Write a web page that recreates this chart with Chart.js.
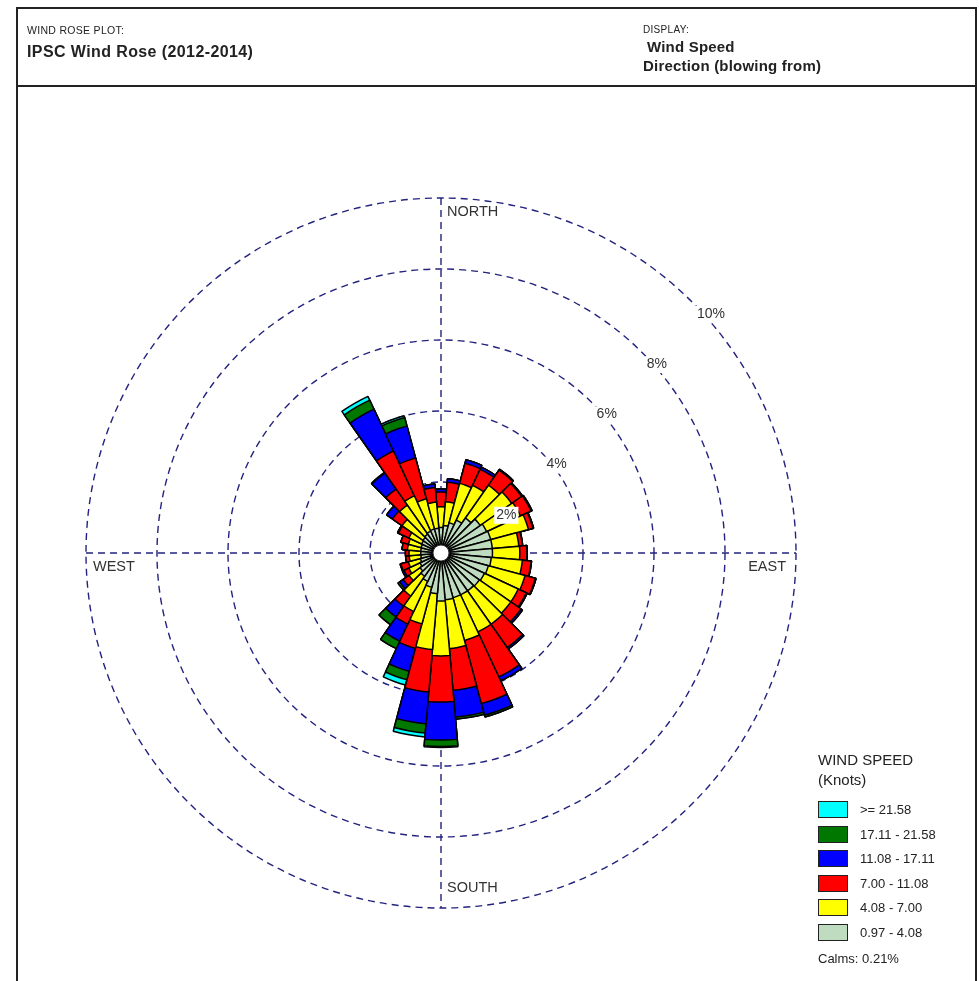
<!DOCTYPE html>
<html><head><meta charset="utf-8">
<script src="https://cdn.jsdelivr.net/npm/chart.js@4"></script>
<style>
html,body{margin:0;padding:0;background:#fff;}
body{width:979px;height:981px;position:relative;overflow:hidden;font-family:"Liberation Sans",Arial,sans-serif;color:#222;}
#frame{position:absolute;left:16px;top:7px;width:961px;height:1000px;border:2px solid #222;border-bottom:none;box-sizing:border-box;}
#hdrline{position:absolute;left:16px;top:85px;width:961px;height:2px;background:#222;}
.t{position:absolute;white-space:nowrap;line-height:1;}
.sw{position:absolute;left:818px;width:30px;height:17px;box-sizing:border-box;border:1.5px solid #222;}
canvas{position:absolute;left:0;top:0;}
</style></head><body>
<div id="frame"></div>
<div id="hdrline"></div>
<canvas id="c" width="979" height="981"></canvas>
<div class="t" style="left:27px;top:25px;font-size:10.5px;letter-spacing:0.3px;">WIND ROSE PLOT:</div>
<div class="t" style="left:27px;top:44px;font-size:16px;font-weight:bold;letter-spacing:0.4px;">IPSC Wind Rose (2012-2014)</div>
<div class="t" style="left:643px;top:25px;font-size:10px;letter-spacing:0.3px;">DISPLAY:</div>
<div class="t" style="left:647px;top:39px;font-size:15px;font-weight:bold;letter-spacing:0.2px;">Wind Speed</div>
<div class="t" style="left:643px;top:58px;font-size:15px;font-weight:bold;letter-spacing:0.2px;">Direction (blowing from)</div>
<div id="legend"></div>
<script>
// 36 directions, 10° sectors, clockwise from North
const directions = ['360°','10°','20°','30°','40°','50°','60°','70°','80°','90°','100°','110°','120°','130°','140°','150°','160°','170°','180°','190°','200°','210°','220°','230°','240°','250°','260°','270°','280°','290°','300°','310°','320°','330°','340°','350°'];
// frequency (%) per speed class
const speed097_408 = [0.72,0.78,0.88,1.02,1.20,1.35,1.42,1.45,1.45,1.45,1.42,1.38,1.35,1.32,1.30,1.30,1.30,1.32,1.35,1.15,1.00,0.88,0.80,0.72,0.65,0.60,0.57,0.57,0.57,0.58,0.60,0.62,0.65,0.68,0.70,0.70];
const speed408_700 = [0.58,0.67,1.15,1.08,1.13,1.08,1.05,1.10,0.75,0.77,0.88,1.07,1.05,1.08,1.15,1.15,1.25,1.38,1.55,1.58,1.07,0.94,0.68,0.38,0.35,0.35,0.33,0.33,0.38,0.37,0.40,0.72,1.00,1.10,0.88,0.74];
const speed700_1108 = [0.42,0.55,0.59,0.50,0.52,0.34,0.33,0.13,0.10,0.20,0.25,0.30,0.25,0.35,0.80,1.40,1.84,1.18,1.30,1.20,0.71,0.39,0.35,0.20,0.15,0.22,0.10,0.10,0.15,0.22,0.32,0.33,0.55,1.39,1.19,0.41];
const speed1108_1711 = [0.08,0.10,0.10,0.07,0.03,0.03,0.03,0.02,0.01,0.01,0.01,0.02,0.03,0.05,0.05,0.12,0.34,0.76,1.07,0.90,0.67,0.53,0.37,0.12,0.05,0.02,0,0,0,0,0.03,0.20,0.55,1.30,0.93,0.10];
const speed1711_2158 = [0,0,0,0,0,0,0,0,0,0,0,0,0,0,0,0,0.05,0.06,0.18,0.26,0.25,0.23,0.27,0.06,0,0,0,0,0,0,0,0,0.02,0.28,0.25,0];
const speedGE2158 = [0,0,0,0,0,0,0,0,0,0,0,0,0,0,0,0,0,0,0.03,0.11,0.15,0,0,0,0,0,0,0,0,0,0,0,0,0.12,0.05,0];
const classLabels = ['0.97 - 4.08','4.08 - 7.00','7.00 - 11.08','11.08 - 17.11','17.11 - 21.58','>= 21.58'];
const classColors = ['#c0dcc0','#ffff00','#ff0000','#0000ff','#007800','#00ffff'];
const ringTicks = [2,4,6,8,10];
const compass = ['NORTH','EAST','SOUTH','WEST'];
const calms = 'Calms: 0.21%';

const series = [speed097_408, speed408_700, speed700_1108, speed1108_1711, speed1711_2158, speedGE2158];
const cumulative = [];
series.forEach((s, k) => {
  cumulative.push(s.map((v, i) => +(v + (k ? cumulative[k-1][i] : 0)).toFixed(3)));
});

const datasets = cumulative.map((d, k) => ({
  label: classLabels[k], data: d, backgroundColor: classColors[k],
  borderColor: '#000', borderWidth: 1.5
}));

const DASH = [7,5];
const GRIDCOL = '#23237f';
const decor = {
  id: 'decor',
  beforeDatasetsDraw(chart) {
    const s = chart.scales.r, ctx = chart.ctx;
    const R = s.getDistanceFromCenterForValue(ringTicks[ringTicks.length-1]);
    ctx.save();
    ctx.strokeStyle = GRIDCOL; ctx.lineWidth = 1.4; ctx.setLineDash(DASH);
    ctx.beginPath();
    ctx.moveTo(s.xCenter - R, s.yCenter); ctx.lineTo(s.xCenter + R, s.yCenter);
    ctx.moveTo(s.xCenter, s.yCenter - R); ctx.lineTo(s.xCenter, s.yCenter + R);
    ctx.stroke();
    ctx.restore();
  },
  afterDatasetsDraw(chart) {
    const s = chart.scales.r, ctx = chart.ctx;
    const cx = s.xCenter, cy = s.yCenter;
    const R = s.getDistanceFromCenterForValue(ringTicks[ringTicks.length-1]);
    ctx.save();
    // calm hole
    ctx.fillStyle = '#fff';
    ctx.strokeStyle = '#333'; ctx.lineWidth = 1;
    ctx.beginPath(); ctx.arc(cx, cy, 8, 0, Math.PI*2); ctx.fill(); ctx.stroke();
    // ring labels
    ctx.font = '14px "Liberation Sans", Arial, sans-serif';
    ctx.textBaseline = 'middle'; ctx.textAlign = 'left';
    ringTicks.forEach(v => {
      const r = s.getDistanceFromCenterForValue(v);
      const px = cx + r*Math.SQRT1_2 + 5, py = cy - r*Math.SQRT1_2 + 12;
      const txt = v + '%';
      const w = ctx.measureText(txt).width;
      ctx.fillStyle = '#fff';
      ctx.fillRect(px - 2, py - 8, w + 4, 17);
      ctx.fillStyle = '#333';
      ctx.fillText(txt, px, py);
    });
    // compass labels
    ctx.font = '14.5px "Liberation Sans", Arial, sans-serif';
    ctx.fillStyle = '#333';
    ctx.fillText(compass[0], cx + 6, cy - R + 14);
    ctx.fillText(compass[2], cx + 6, cy + R - 20);
    ctx.fillText(compass[3], cx - R + 7, cy + 14);
    ctx.textAlign = 'right';
    ctx.fillText(compass[1], cx + R - 10, cy + 14);
    ctx.restore();
  }
};

new Chart(document.getElementById('c'), {
  type: 'polarArea',
  data: { labels: directions, datasets },
  options: {
    responsive: false, animation: false,
    layout: { padding: { left: 86, right: 183, top: 198, bottom: 73 } },
    plugins: { legend: { display: false }, tooltip: { enabled: false } },
    scales: {
      r: {
        min: 0, max: 10, startAngle: -5,
        ticks: { display: false, stepSize: 2 },
        grid: { circular: true, color: GRIDCOL, lineWidth: 1.4 },
        border: { dash: DASH },
        angleLines: { display: false },
        pointLabels: { display: false }
      }
    }
  },
  plugins: [decor]
});

// legend (HTML)
const lg = document.getElementById('legend');
let html = '<div class="t" style="left:818px;top:752px;font-size:15px;">WIND SPEED</div>' +
           '<div class="t" style="left:818px;top:772px;font-size:15px;">(Knots)</div>';
const tops = [801, 826, 850, 875, 899, 924];
for (let j = 0; j < 6; j++) {
  const k = 5 - j;
  html += '<div class="sw" style="top:' + tops[j] + 'px;background:' + classColors[k] + ';"></div>';
  html += '<div class="t" style="left:860px;top:' + (tops[j] + 2) + 'px;font-size:13px;">' + classLabels[k].replace('>', '&gt;') + '</div>';
}
html += '<div class="t" style="left:818px;top:952px;font-size:13px;">' + calms + '</div>';
lg.innerHTML = html;
</script>
</body></html>
